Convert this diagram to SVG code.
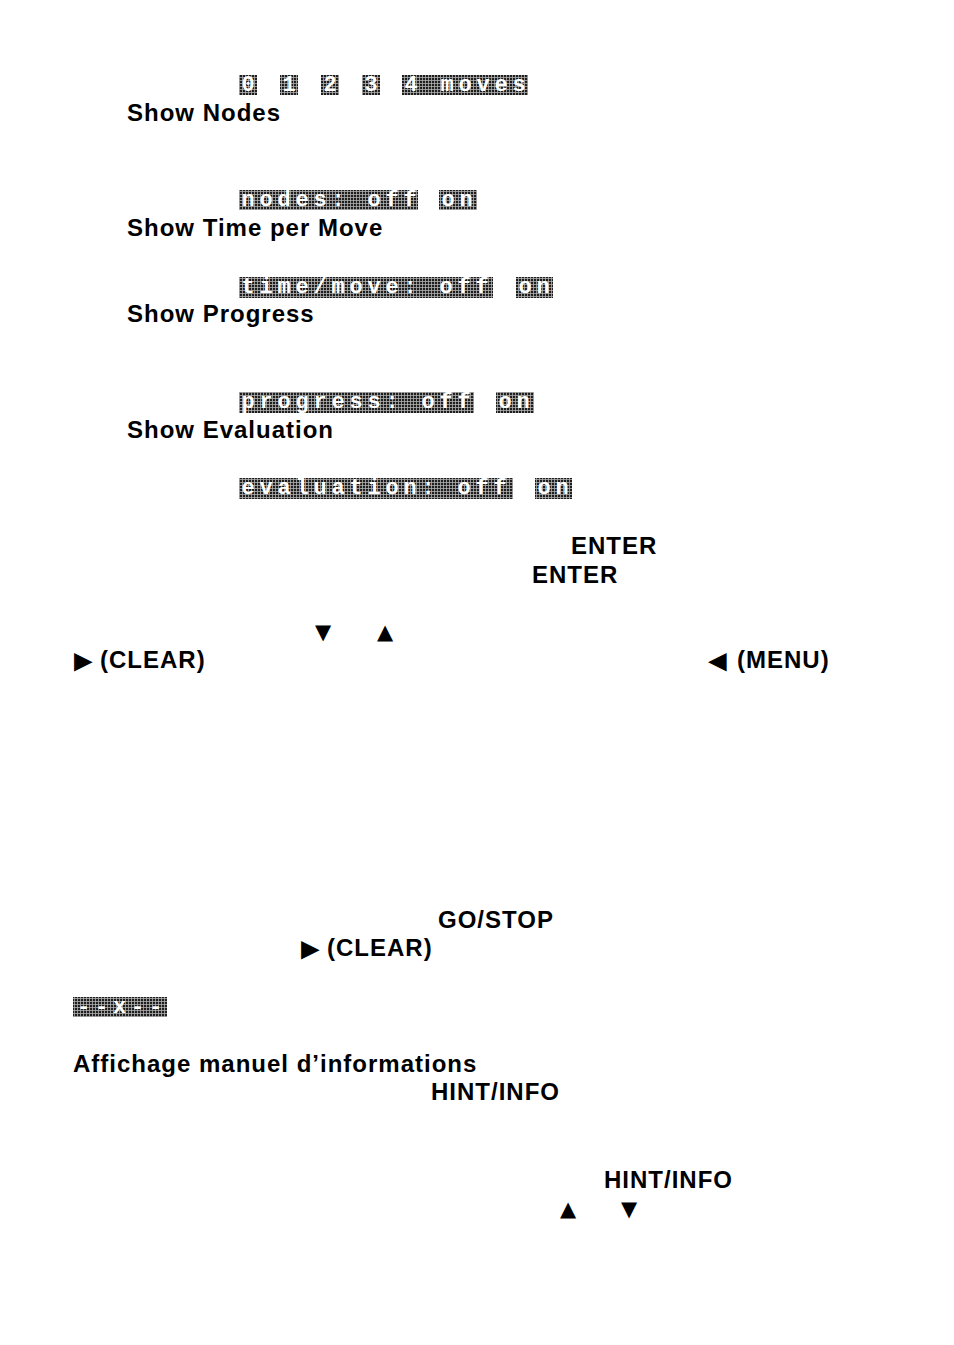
<svg xmlns="http://www.w3.org/2000/svg" width="954" height="1345" viewBox="0 0 954 1345">
<defs>
<pattern id="dots" x="0" y="0" width="3" height="3" patternUnits="userSpaceOnUse">
<rect width="3" height="3" fill="#b0b0b0"/>
<rect width="2.2" height="2.2" fill="#1e1e1e"/>
</pattern>
</defs>
<style>
.t{font-family:"Liberation Sans",Arial,Helvetica,sans-serif;font-weight:bold;font-size:24px;letter-spacing:1px;fill:#000}
.s{font-family:"DejaVu Sans","Liberation Sans",sans-serif;font-size:21px;fill:#000}
.p{font-family:"Liberation Sans",Arial,sans-serif;font-size:31px;fill:#000}
.lcd{fill:url(#dots)}
.lt{font-family:"Liberation Mono","DejaVu Sans Mono",monospace;font-weight:bold;font-size:22px;letter-spacing:4.8px;fill:#fff}
</style>
<rect width="954" height="1345" fill="#fff"/>

<g id="lcd-moves">
<rect class="lcd" x="239" y="75" width="18" height="20"/>
<text class="lt" x="241.4" y="91">0</text>
<rect class="lcd" x="280" y="75" width="18" height="20"/>
<text class="lt" x="282.4" y="91">1</text>
<rect class="lcd" x="321" y="75" width="18" height="20"/>
<text class="lt" x="323.4" y="91">2</text>
<rect class="lcd" x="362" y="75" width="18" height="20"/>
<text class="lt" x="364.4" y="91">3</text>
<rect class="lcd" x="402" y="75" width="126" height="20"/>
<text class="lt" x="404.4" y="91">4 moves</text>
</g>
<g id="show-nodes"><text class="t" x="127" y="121">Show Nodes</text></g>

<g id="lcd-nodes">
<rect class="lcd" x="239" y="190" width="179" height="20"/>
<text class="lt" x="241.4" y="206">nodes: off</text>
<rect class="lcd" x="439" y="190" width="38" height="20"/>
<text class="lt" x="441.4" y="206">on</text>
</g>
<g id="show-time"><text class="t" x="127" y="236">Show Time per Move</text></g>

<g id="lcd-time">
<rect class="lcd" x="239" y="277" width="254" height="21"/>
<text class="lt" x="241.4" y="293">time/move: off</text>
<rect class="lcd" x="516" y="277" width="37" height="21"/>
<text class="lt" x="518.4" y="293">on</text>
</g>
<g id="show-progress"><text class="t" x="127" y="322">Show Progress</text></g>

<g id="lcd-progress">
<rect class="lcd" x="239" y="392" width="235" height="21"/>
<text class="lt" x="241.4" y="408">progress: off</text>
<rect class="lcd" x="496" y="392" width="38" height="21"/>
<text class="lt" x="498.4" y="408">on</text>
</g>
<g id="show-evaluation"><text class="t" x="127" y="438">Show Evaluation</text></g>

<g id="lcd-evaluation">
<rect class="lcd" x="239" y="478" width="274" height="21"/>
<text class="lt" x="241.4" y="494">evaluation: off</text>
<rect class="lcd" x="535" y="478" width="37" height="21"/>
<text class="lt" x="537.4" y="494">on</text>
</g>

<g id="enter-keys">
<text class="t" x="571" y="554">ENTER</text>
<text class="t" x="532" y="583">ENTER</text>
</g>

<g id="arrows-1">
<text class="s" x="315" y="639">▼</text>
<text class="s" x="377" y="639">▲</text>
</g>
<g id="clear-menu">
<text class="p" x="68" y="671">►</text>
<text class="t" x="100" y="668">(CLEAR)</text>
<text class="p" x="702" y="671">◄</text>
<text class="t" x="737" y="668">(MENU)</text>
</g>

<g id="go-stop">
<text class="t" x="438" y="928">GO/STOP</text>
<text class="p" x="295" y="959">►</text>
<text class="t" x="327" y="956">(CLEAR)</text>
</g>

<g id="lcd-dash">
<rect class="lcd" x="73" y="997" width="94" height="20"/>
<text class="lt" x="77" y="1013">--x--</text>
</g>

<g id="affichage">
<text class="t" x="73" y="1072">Affichage manuel d’informations</text>
<text class="t" x="431" y="1100">HINT/INFO</text>
</g>

<g id="hint-info-2">
<text class="t" x="604" y="1188">HINT/INFO</text>
<text class="s" x="560" y="1216">▲</text>
<text class="s" x="621" y="1216">▼</text>
</g>
</svg>
